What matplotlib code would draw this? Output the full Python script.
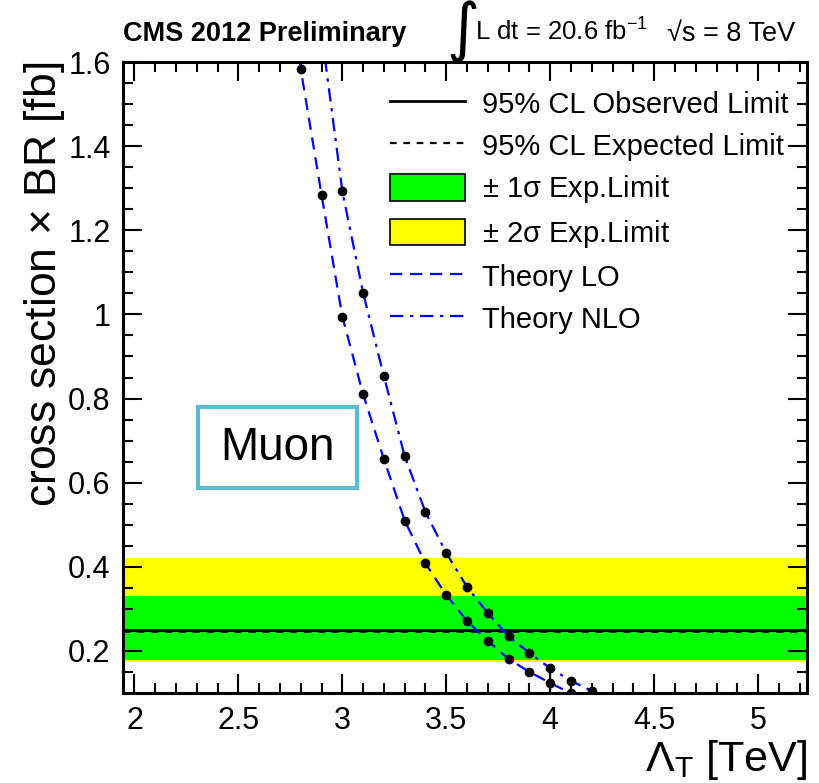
import matplotlib.pyplot as plt
import matplotlib.patches as mpatches
from matplotlib.lines import Line2D
from matplotlib.ticker import MultipleLocator

# Data ########################################################

lo_x = [2.7, 2.8, 2.9, 3.0, 3.1, 3.2, 3.3, 3.4, 3.5, 3.6, 3.7, 3.8, 3.9, 4.0, 4.1, 4.2]
lo_xsec = [1.95, 1.583, 1.284, 0.995, 0.810, 0.656, 0.510, 0.408, 0.333, 0.271, 0.224,
           0.181, 0.150, 0.124, 0.099, 0.081]

nlo_x = [2.8, 2.9, 3.0, 3.1, 3.2, 3.3, 3.4, 3.5, 3.6, 3.7, 3.8, 3.9, 4.0, 4.1, 4.2, 4.3]
nlo_xsec = [2.06, 1.67, 1.293, 1.051, 0.853, 0.663, 0.530, 0.433, 0.352, 0.290, 0.235,
            0.195, 0.159, 0.129, 0.105, 0.086]
nlo_err_dn = [0, 0, 0, 0, 0, 0, 0, 0, 0, 0, 0, 0, 0.07, 0.05, 0, 0]

obs_limit = 0.251
exp_limit = 0.247
band_1sigma = (0.178, 0.331)
band_2sigma = (0.174, 0.421)

x_range = (1.945, 5.235)
y_range = (0.1, 1.6)

# Plot ########################################################

plt.rcParams['font.family'] = ['Liberation Sans', 'DejaVu Sans']
plt.rcParams['mathtext.fontset'] = 'custom'
plt.rcParams['mathtext.rm'] = 'Liberation Sans'
plt.rcParams['mathtext.it'] = 'Liberation Sans'

fig = plt.figure(figsize=(8.19, 7.83), dpi=100)
ax = fig.add_axes([0.1502, 0.1149, 0.8351, 0.8059])

ax.axhspan(*band_2sigma, color='#ffff00', lw=0, zorder=1)
ax.axhspan(*band_1sigma, color='#00ff00', lw=0, zorder=1)
ax.axhline(obs_limit, color='black', lw=2.2, zorder=2)
ax.axhline(exp_limit, color='black', lw=2.0, ls=(0, (2.5, 2.5)), zorder=2)

lo_style = (0, (5.5, 3.5))
nlo_style = (0, (6, 3, 1.5, 3))
ax.plot(lo_x, lo_xsec, color='blue', lw=1.6, ls=lo_style, zorder=3)
ax.plot(nlo_x, nlo_xsec, color='blue', lw=1.6, ls=nlo_style, zorder=3)
ax.plot(lo_x, lo_xsec, 'o', color='black', ms=6, zorder=4)
ax.errorbar(nlo_x, nlo_xsec, yerr=[nlo_err_dn, [0] * len(nlo_x)], fmt='o', color='black',
            ms=6, elinewidth=1.6, capsize=0, zorder=4)

ax.set_xlim(*x_range)
ax.set_ylim(*y_range)
ax.xaxis.set_minor_locator(MultipleLocator(0.1))
ax.yaxis.set_minor_locator(MultipleLocator(0.05))
ax.tick_params(which='both', direction='in', top=True, right=True, width=1.5)
ax.tick_params(which='major', length=14, labelsize=22, pad=9)
ax.tick_params(which='minor', length=7.5)
ax.set_yticks([0.2, 0.4, 0.6, 0.8, 1.0, 1.2, 1.4, 1.6])
ax.set_yticklabels(['0.2', '0.4', '0.6', '0.8', '1', '1.2', '1.4', '1.6'])
ax.set_xticks([2, 2.5, 3, 3.5, 4, 4.5, 5])
ax.set_xticklabels(['2', '2.5', '3', '3.5', '4', '4.5', '5'])
for s in ax.spines.values():
    s.set_linewidth(2.2)
    s.set_zorder(10)

ax.set_xlabel(r'$\Lambda_{\rm T}$ [TeV]', fontsize=31, loc='right', labelpad=2)
ax.set_ylabel(r'cross section $\times$ BR [fb]', fontsize=32, loc='top', labelpad=1)

handles = [
    Line2D([], [], color='black', lw=2),
    Line2D([], [], color='black', lw=1.6, ls=(0, (3, 3))),
    mpatches.Patch(facecolor='#00ff00', edgecolor='black', lw=1.2),
    mpatches.Patch(facecolor='#ffff00', edgecolor='black', lw=1.2),
    Line2D([], [], color='blue', lw=1.6, ls=lo_style),
    Line2D([], [], color='blue', lw=1.6, ls=nlo_style),
]
labels = ['95% CL Observed Limit', '95% CL Expected Limit', r'$\pm$ 1$\sigma$ Exp.Limit',
          r'$\pm$ 2$\sigma$ Exp.Limit', 'Theory LO', 'Theory NLO']
ax.legend(handles, labels, loc='upper left', bbox_to_anchor=(0.390, 0.956), frameon=False,
          fontsize=21, handlelength=2.57, handleheight=1.03, handletextpad=0.58,
          labelspacing=0.43, borderaxespad=0, borderpad=0)

# Channel tag
ax.add_patch(mpatches.Rectangle((0.1096, 0.325), 0.2325, 0.128, transform=ax.transAxes,
                                facecolor='white', edgecolor='#5bbcd0', lw=3, zorder=5))
ax.text(0.2258, 0.389, 'Muon', transform=ax.transAxes, fontsize=33, ha='center',
        va='center', zorder=6)

fig.text(0.150, 0.948, 'CMS 2012 Preliminary', fontsize=19.5, fontweight='bold',
         va='baseline')
fig.text(0.565, 0.959, '\u222b', fontsize=46, family='DejaVu Sans', ha='center',
         va='center')
fig.text(0.580, 0.948, r'L dt = 20.6 fb$^{-1}$', fontsize=18.5, va='baseline')
fig.text(0.971, 0.948, '\u221as = 8 TeV', fontsize=19.5, ha='right', va='baseline')

plt.savefig('out.png', dpi=100)
